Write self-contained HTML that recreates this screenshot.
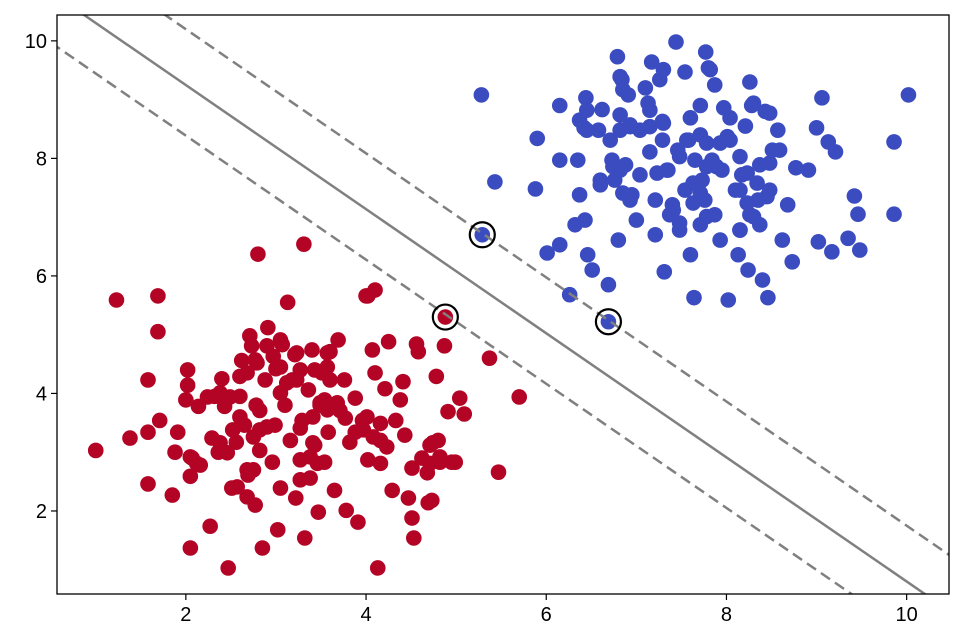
<!DOCTYPE html>
<html><head><meta charset="utf-8"><style>
html,body{margin:0;padding:0;background:#fff;overflow:hidden;width:971px;height:643px;}
svg{display:block;font-family:"Liberation Sans","DejaVu Sans",sans-serif;}
</style></head><body>
<svg id="chart" width="971" height="643" viewBox="0 0 971 643"></svg>
<script>
const blueX=[5.28,5.43,5.88,5.90,6.15,6.01,6.15,6.26,6.44,6.42,6.35,6.37,6.43,6.46,6.51,6.69,6.62,6.71,6.76,6.80,6.79,6.84,6.91,6.88,6.95,7.00,7.04,7.13,7.15,7.17,7.26,7.29,7.31,7.35,7.40,7.44,7.48,7.54,7.58,7.60,7.64,7.71,7.73,7.77,7.80,7.84,7.87,7.93,7.97,8.02,8.04,8.13,8.17,8.21,8.26,8.28,8.24,8.35,8.40,8.43,8.46,8.51,8.57,8.62,8.68,8.73,8.77,8.91,9.00,9.02,9.06,9.13,9.21,9.17,9.35,9.42,9.46,9.48,9.86,9.86,10.02,7.21,7.37,7.54,7.65,7.76,7.87,7.95,8.10,8.26,8.37,8.48,7.46,7.71,7.60,7.04,6.93,6.73,6.60,7.21,7.71,8.15,8.37,8.04,7.29,7.10,6.58,6.82,6.15,6.32,
7.78,7.93,8.01,7.78,7.89,7.48,7.56,7.34,7.23,7.63,7.71,7.63,7.41,7.48,7.78,8.15,8.23,8.34,8.15,8.23,8.30,8.15,8.45,6.85,6.93,6.82,6.74,6.60,6.82,6.93,6.45,6.37,6.45,7.15,7.15,7.30,6.82,6.85,7.30,7.82,8.30,8.48,8.59,8.48,5.29,6.69];
const blueY=[9.08,7.60,7.48,8.34,8.90,6.39,6.53,5.68,9.03,8.52,7.97,7.38,6.95,6.36,6.10,5.85,8.83,8.31,7.63,6.61,9.73,9.34,9.08,7.89,7.38,6.95,8.48,8.94,8.11,9.64,9.34,8.63,6.07,7.80,7.21,9.98,6.78,9.47,8.31,6.36,5.63,8.90,7.63,9.81,9.54,7.97,9.25,6.61,8.86,5.59,8.31,6.36,7.72,8.55,9.30,8.90,6.10,7.29,5.93,8.80,5.63,8.14,8.48,6.61,7.21,6.24,7.84,7.80,8.52,6.58,9.03,8.28,8.11,6.41,6.64,7.36,7.05,6.44,8.28,7.05,9.08,7.29,7.04,7.46,7.97,7.29,7.04,7.80,7.46,7.04,7.89,7.46,8.14,8.40,8.69,7.72,8.57,7.97,7.55,6.70,6.87,6.78,6.87,8.69,8.31,9.20,8.48,8.74,7.97,6.87,
8.26,8.26,8.37,7.86,7.86,8.03,8.31,7.80,7.75,7.58,7.41,7.24,7.12,6.90,7.01,8.03,7.75,7.58,7.46,7.24,7.01,6.78,7.35,7.41,7.29,7.80,7.86,7.63,8.48,8.54,8.82,8.65,8.48,8.54,8.82,8.60,9.39,9.17,9.51,9.51,8.94,8.77,8.14,7.92,6.70,5.22];
const redX=[1.00,1.23,1.38,1.58,1.58,1.58,1.69,1.69,1.71,1.85,1.88,1.91,2.00,2.02,2.02,2.05,2.05,2.07,2.14,2.16,2.27,2.29,2.32,2.36,2.40,2.43,2.47,2.51,2.56,2.60,2.62,2.65,2.69,2.71,2.73,2.77,2.78,2.80,2.82,2.85,2.88,2.91,2.96,2.99,3.00,3.02,3.05,3.07,3.10,3.13,3.16,3.18,3.21,3.22,3.27,3.29,3.31,3.32,3.36,3.38,3.40,3.43,3.47,3.49,3.51,3.54,3.58,3.60,3.65,3.69,3.71,3.76,3.78,3.82,3.88,3.91,3.96,4.00,4.02,4.07,4.10,4.10,4.13,4.16,4.21,4.25,4.29,4.33,4.38,4.41,4.43,4.47,4.51,4.53,4.56,4.58,4.62,4.69,4.73,4.78,4.80,4.82,4.87,4.91,4.95,4.99,5.04,5.09,5.37,5.47,5.70,4.71,4.51,4.02,3.05,2.77,3.43,3.27,2.82,3.77,3.88,3.54,2.60,
3.49,3.57,3.68,3.41,4.01,4.16,4.08,4.23,3.97,2.82,2.75,2.90,2.60,2.52,2.38,2.46,2.05,2.12,2.24,2.38,2.49,2.68,2.79,2.90,2.97,3.05,3.23,3.27,3.23,3.05,3.12,3.57,3.57,3.60,3.41,3.38,3.46,3.27,4.74,4.82,4.71,4.68,4.16,2.68,2.75,2.57,2.68,4.88];
const redY=[3.03,5.59,3.24,4.23,3.34,2.46,5.66,5.05,3.54,2.27,3.00,3.34,3.89,4.40,4.14,1.37,2.59,2.90,3.78,2.78,1.74,3.24,3.95,3.00,4.25,3.78,1.03,2.39,3.17,3.95,4.56,3.46,2.61,4.98,4.81,2.10,3.80,6.37,3.03,1.37,4.23,5.12,2.83,3.46,4.42,1.68,2.39,4.83,3.80,5.55,3.20,4.23,4.66,2.22,2.87,3.54,6.54,1.54,4.06,2.56,4.74,3.12,1.98,3.80,4.35,2.83,3.34,4.71,2.35,4.91,3.71,4.23,2.01,3.17,3.92,1.81,3.54,5.66,2.87,4.74,5.76,4.35,1.03,3.20,4.08,4.88,2.35,3.54,3.89,4.20,3.29,2.22,1.88,1.54,4.84,4.71,2.90,2.14,2.18,4.29,3.20,2.83,4.81,3.69,2.83,2.83,3.92,3.65,4.60,2.66,3.94,3.12,2.73,5.66,4.91,4.57,4.40,3.41,3.71,3.58,3.34,3.89,4.29,
3.84,3.72,3.84,3.60,3.60,3.49,3.26,3.09,3.38,3.38,3.26,3.43,3.60,3.38,3.16,2.99,2.92,2.81,3.94,4.01,3.94,4.35,4.52,4.81,4.63,4.45,4.69,4.40,4.23,4.01,4.18,4.69,4.45,4.23,3.16,2.92,2.81,2.53,3.16,2.92,2.81,2.65,2.81,2.70,2.70,2.41,2.24,5.30];
const svX=[5.29,4.88,6.69];
const svY=[6.70,5.30,5.22];
// decision boundary y = slope*x + intercept
const lineSlope=[-1.056,-1.056,-1.056];
const lineIntercept=[12.31,11.36,10.50];
const lineNames=['upper-margin','decision-boundary','lower-margin'];
const xTicks=[2,4,6,8,10];
const yTicks=[2,4,6,8,10];

const NS='http://www.w3.org/2000/svg';
const svg=document.getElementById('chart');
const L=57,R=949,T=15,B=594;
const xMin=0.57,xMax=10.47,yMin=0.587,yMax=10.44;
const sx=v=>L+(v-xMin)/(xMax-xMin)*(R-L);
const sy=v=>B-(v-yMin)/(yMax-yMin)*(B-T);
function mk(tag,attrs,parent){const e=document.createElementNS(NS,tag);for(const k in attrs)e.setAttribute(k,attrs[k]);(parent||svg).appendChild(e);return e;}

const defs=mk('defs',{});
const cp=mk('clipPath',{id:'plotclip'},defs);
mk('rect',{x:L,y:T,width:R-L,height:B-T},cp);

const plot=mk('g',{'clip-path':'url(#plotclip)'});



for(let i=0;i<blueX.length;i++){
  const c=mk('circle',{cx:sx(blueX[i]),cy:sy(blueY[i]),r:7.8,fill:'#3b4cc0'},plot);
  
  
}
for(let i=0;i<redX.length;i++){
  const c=mk('circle',{cx:sx(redX[i]),cy:sy(redY[i]),r:7.8,fill:'#b40426'},plot);
  
  
}
for(let i=0;i<lineSlope.length;i++){
  const x1=xMin-1,x2=xMax+1;
  const ln=mk('line',{x1:sx(x1),y1:sy(lineSlope[i]*x1+lineIntercept[i]),x2:sx(x2),y2:sy(lineSlope[i]*x2+lineIntercept[i]),stroke:'#808080','stroke-width':2.5,'stroke-dasharray':i===1?'none':'11,6'},plot);
  
  
}
for(let i=0;i<svX.length;i++){
  const c=mk('circle',{cx:sx(svX[i]),cy:sy(svY[i]),r:12.5,fill:'none',stroke:'#000','stroke-width':2.2},plot);
  
  
}

const frame=mk('rect',{x:L,y:T,width:R-L,height:B-T,fill:'none',stroke:'#000','stroke-width':1.3});



xTicks.forEach(v=>{
  const t=mk('line',{x1:sx(v),x2:sx(v),y1:B,y2:B+6,stroke:'#000','stroke-width':1.2});
  
  
  const tx=mk('text',{x:sx(v),y:B+27,'text-anchor':'middle','font-size':20,fill:'#000'});
  tx.textContent=v;
  
  
});
yTicks.forEach(v=>{
  const t=mk('line',{x1:L-6,x2:L,y1:sy(v),y2:sy(v),stroke:'#000','stroke-width':1.2});
  
  
  const tx=mk('text',{x:L-10,y:sy(v)+7,'text-anchor':'end','font-size':20,fill:'#000'});
  tx.textContent=v;
  
  
});
</script>
</body></html>
